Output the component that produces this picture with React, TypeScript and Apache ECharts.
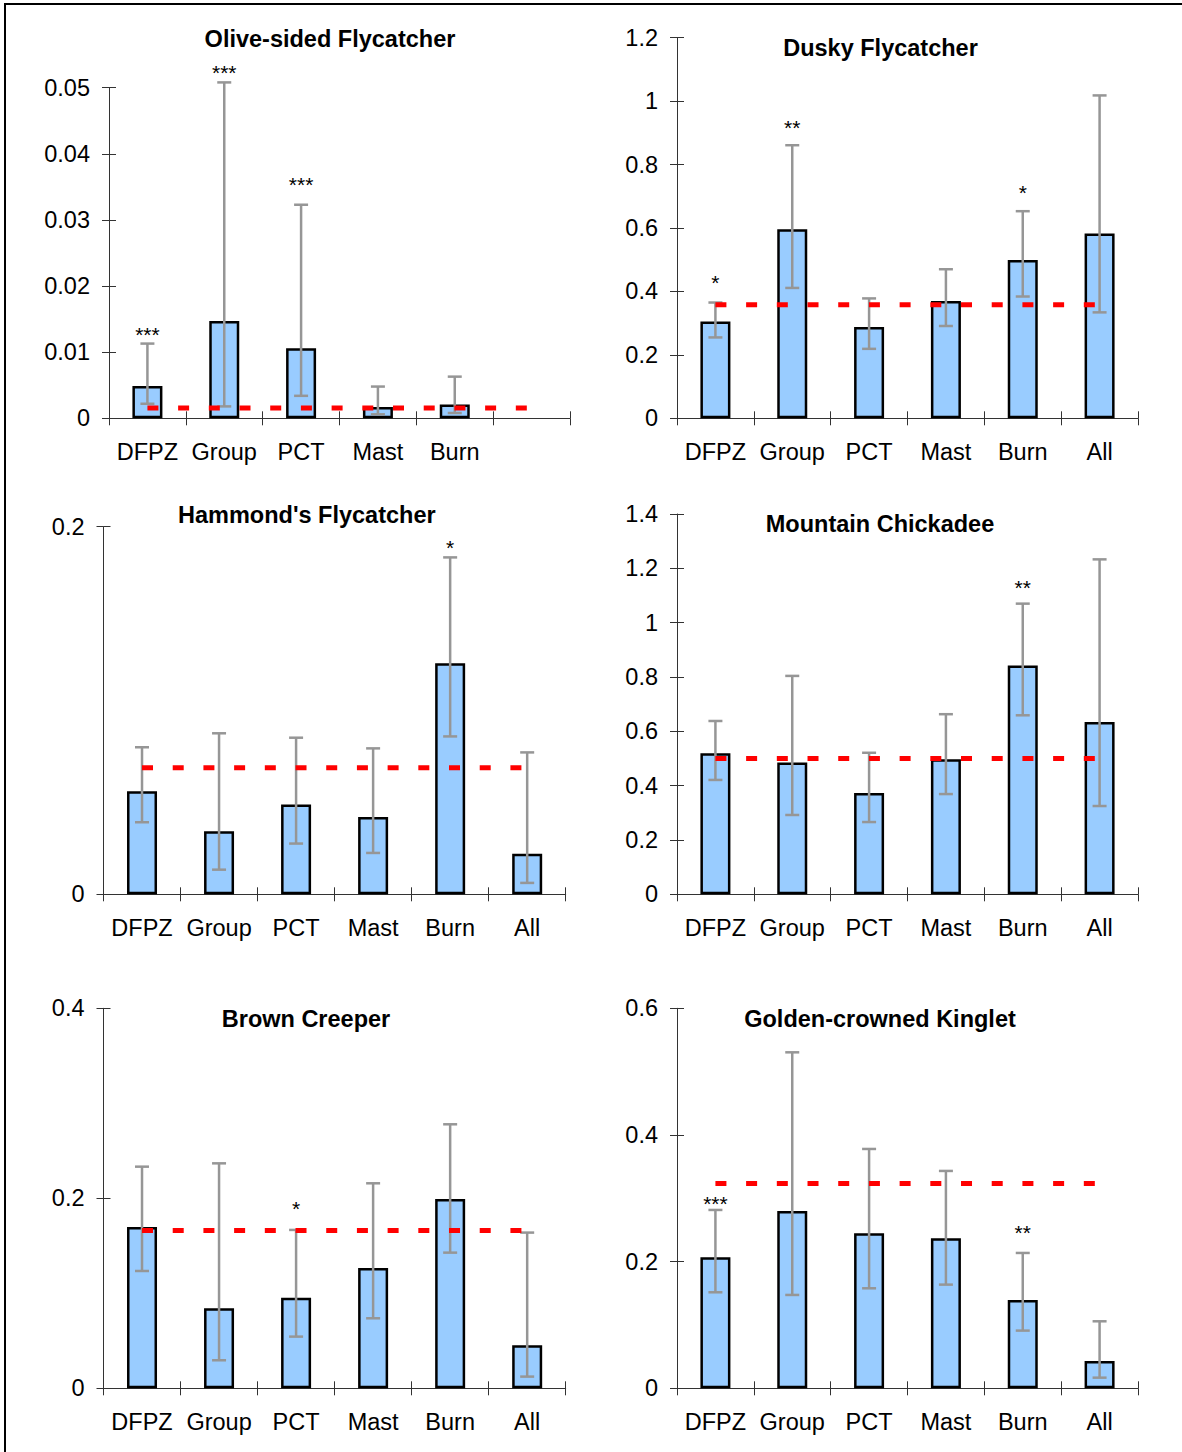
import React, { useEffect, useRef } from 'react';
import * as echarts from 'echarts';

// ---------- Data ----------
const categories = ['DFPZ', 'Group', 'PCT', 'Mast', 'Burn', 'All'];
const oliveCategories = ['DFPZ', 'Group', 'PCT', 'Mast', 'Burn', ''];

// Olive-sided Flycatcher
const oliveMean = [0.0049, 0.0147, 0.0106, 0.0017, 0.0021];
const oliveLow = [0.0022, 0.0018, 0.0034, 0.0006, 0.0008];
const oliveHigh = [0.0113, 0.0508, 0.0323, 0.0048, 0.0063];
const oliveRef = 0.00156;
const oliveStars = ['***', '***', '***', '', ''];
const oliveStarY = [0.0134, 0.053, 0.036, null, null];

// Dusky Flycatcher
const duskyMean = [0.305, 0.596, 0.288, 0.37, 0.499, 0.583];
const duskyLow = [0.255, 0.411, 0.219, 0.291, 0.384, 0.334];
const duskyHigh = [0.365, 0.861, 0.378, 0.47, 0.653, 1.018];
const duskyRef = 0.358;
const duskyStars = ['*', '**', '', '', '*', ''];
const duskyStarY = [0.441, 0.932, null, null, 0.727, null];

// Hammond's Flycatcher
const hammondMean = [0.056, 0.0343, 0.0488, 0.0421, 0.1257, 0.0221];
const hammondLow = [0.0392, 0.0134, 0.0276, 0.0225, 0.0859, 0.0062];
const hammondHigh = [0.08, 0.0876, 0.0852, 0.0794, 0.1833, 0.0772];
const hammondRef = 0.0689;
const hammondStars = ['', '', '', '', '*', ''];
const hammondStarY = [null, null, null, null, 0.1913, null];

// Mountain Chickadee
const chickadeeMean = [0.519, 0.485, 0.373, 0.497, 0.842, 0.634];
const chickadeeLow = [0.421, 0.292, 0.266, 0.369, 0.659, 0.325];
const chickadeeHigh = [0.638, 0.804, 0.521, 0.663, 1.07, 1.233];
const chickadeeRef = 0.5;
const chickadeeStars = ['', '', '', '', '**', ''];
const chickadeeStarY = [null, null, null, null, 1.147, null];

// Brown Creeper
const creeperMean = [0.1698, 0.0842, 0.0954, 0.1267, 0.1993, 0.0453];
const creeperLow = [0.1235, 0.0295, 0.0544, 0.0737, 0.1428, 0.0123];
const creeperHigh = [0.2333, 0.2368, 0.1667, 0.2158, 0.2779, 0.1639];
const creeperRef = 0.166;
const creeperStars = ['', '', '*', '', '', ''];
const creeperStarY = [null, null, 0.1937, null, null, null];

// Golden-crowned Kinglet
const kingletMean = [0.2068, 0.28, 0.2447, 0.2368, 0.1395, 0.0432];
const kingletLow = [0.1516, 0.1474, 0.1579, 0.1637, 0.0911, 0.0168];
const kingletHigh = [0.2816, 0.5305, 0.3779, 0.3432, 0.2137, 0.1058];
const kingletRef = 0.3232;
const kingletStars = ['***', '', '', '', '**', ''];
const kingletStarY = [0.2984, null, null, null, 0.2536, null];

// Axis scales
const oliveAxis = { min: 0, max: 0.05, interval: 0.01 };
const duskyAxis = { min: 0, max: 1.2, interval: 0.2 };
const hammondAxis = { min: 0, max: 0.2, interval: 0.2 };
const chickadeeAxis = { min: 0, max: 1.4, interval: 0.2 };
const creeperAxis = { min: 0, max: 0.4, interval: 0.2 };
const kingletAxis = { min: 0, max: 0.6, interval: 0.2 };

// ---------- Layout / style ----------
const FONT = 'Liberation Sans, Arial, sans-serif';
const AXIS_COLOR = '#333333';
const ERR_COLOR = '#969696';

const panels = [
  {
    title: 'Olive-sided Flycatcher', tx: 330, ty: 39,
    cats: oliveCategories, mean: oliveMean, low: oliveLow, high: oliveHigh, ref: oliveRef,
    stars: oliveStars, starY: oliveStarY, axis: oliveAxis,
    rect: { left: 109, top: 87.7, width: 461, height: 330.6 },
  },
  {
    title: 'Dusky Flycatcher', tx: 880.5, ty: 48,
    cats: categories, mean: duskyMean, low: duskyLow, high: duskyHigh, ref: duskyRef,
    stars: duskyStars, starY: duskyStarY, axis: duskyAxis,
    rect: { left: 677, top: 37.7, width: 461, height: 380.6 },
  },
  {
    title: "Hammond's Flycatcher", tx: 306.8, ty: 515,
    cats: categories, mean: hammondMean, low: hammondLow, high: hammondHigh, ref: hammondRef,
    stars: hammondStars, starY: hammondStarY, axis: hammondAxis,
    rect: { left: 103.5, top: 526.7, width: 462.2, height: 367.6 },
  },
  {
    title: 'Mountain Chickadee', tx: 880, ty: 524,
    cats: categories, mean: chickadeeMean, low: chickadeeLow, high: chickadeeHigh, ref: chickadeeRef,
    stars: chickadeeStars, starY: chickadeeStarY, axis: chickadeeAxis,
    rect: { left: 677, top: 514, width: 461, height: 380.3 },
  },
  {
    title: 'Brown Creeper', tx: 306, ty: 1019,
    cats: categories, mean: creeperMean, low: creeperLow, high: creeperHigh, ref: creeperRef,
    stars: creeperStars, starY: creeperStarY, axis: creeperAxis,
    rect: { left: 103.5, top: 1008.3, width: 462.2, height: 380 },
  },
  {
    title: 'Golden-crowned Kinglet', tx: 880, ty: 1019,
    cats: categories, mean: kingletMean, low: kingletLow, high: kingletHigh, ref: kingletRef,
    stars: kingletStars, starY: kingletStarY, axis: kingletAxis,
    rect: { left: 677, top: 1008.3, width: 461, height: 380 },
  },
];

function fmt(v: number) {
  return String(parseFloat(Number(v).toFixed(6)));
}

function buildOption() {
  const grid: any[] = [];
  const xAxis: any[] = [];
  const yAxis: any[] = [];
  const series: any[] = [];
  const graphic: any[] = [];

  panels.forEach((p, k) => {
    const g1 = 2 * k;
    const g2 = 2 * k + 1;
    grid.push({ ...p.rect, containLabel: false });
    grid.push({ ...p.rect, containLabel: false });

    // primary axes (outward ticks + labels)
    xAxis.push({
      gridIndex: g1, type: 'category', data: p.cats, position: 'bottom',
      axisLine: { show: true, onZero: false, lineStyle: { color: AXIS_COLOR, width: 1 } },
      axisTick: { show: true, length: 7, inside: false, lineStyle: { color: AXIS_COLOR, width: 1 } },
      axisLabel: { show: true, interval: 0, margin: 22, color: '#000', fontSize: 23.5, fontFamily: FONT },
      splitLine: { show: false },
    });
    yAxis.push({
      gridIndex: g1, type: 'value', position: 'left', ...p.axis,
      axisLine: { show: true, lineStyle: { color: AXIS_COLOR, width: 1 } },
      axisTick: { show: true, length: 7, inside: false, lineStyle: { color: AXIS_COLOR, width: 1 } },
      axisLabel: { show: true, margin: 19, color: '#000', fontSize: 23.5, fontFamily: FONT, formatter: fmt },
      splitLine: { show: false },
    });
    // secondary axes (inward ticks only) to produce cross tick marks
    xAxis.push({
      gridIndex: g2, type: 'category', data: p.cats, position: 'bottom',
      axisLine: { show: false },
      axisTick: { show: true, length: 7, inside: true, lineStyle: { color: AXIS_COLOR, width: 1 } },
      axisLabel: { show: false },
      splitLine: { show: false },
    });
    yAxis.push({
      gridIndex: g2, type: 'value', position: 'left', ...p.axis,
      axisLine: { show: false },
      axisTick: { show: true, length: 7, inside: true, lineStyle: { color: AXIS_COLOR, width: 1 } },
      axisLabel: { show: false },
      splitLine: { show: false },
    });

    series.push({
      type: 'bar', xAxisIndex: g1, yAxisIndex: g1, z: 2,
      data: p.mean, barWidth: 30,
      itemStyle: { color: '#99CCFF', borderColor: '#000000', borderWidth: 2.5 },
      emphasis: { disabled: true },
    });

    const stars = p.stars;
    const starY = p.starY;
    series.push({
      type: 'custom', xAxisIndex: g1, yAxisIndex: g1, z: 3, clip: false,
      data: p.low.map((lo, i) => [i, lo, p.high[i]]),
      renderItem: (params: any, api: any) => {
        const i = api.value(0);
        const top = api.coord([i, api.value(2)]);
        const bot = api.coord([i, api.value(1)]);
        const x = top[0];
        const half = 7;
        const style = { stroke: ERR_COLOR, lineWidth: 2.5, fill: null };
        const children: any[] = [
          { type: 'line', shape: { x1: x, y1: top[1], x2: x, y2: bot[1] }, style },
          { type: 'line', shape: { x1: x - half, y1: top[1], x2: x + half, y2: top[1] }, style },
          { type: 'line', shape: { x1: x - half, y1: bot[1], x2: x + half, y2: bot[1] }, style },
        ];
        const s = stars[params.dataIndex];
        const sy = starY[params.dataIndex];
        if (s && sy != null) {
          const c = api.coord([i, sy]);
          children.push({
            type: 'text', x: c[0], y: c[1] + 4.5,
            style: {
              text: s, fill: '#000', font: `21px ${FONT}`,
              align: 'center', verticalAlign: 'middle',
              textAlign: 'center', textVerticalAlign: 'middle',
            },
          });
        }
        return { type: 'group', children };
      },
    });

    series.push({
      type: 'line', xAxisIndex: g1, yAxisIndex: g1, z: 4,
      data: p.cats.map(() => p.ref),
      symbol: 'none', silent: true,
      lineStyle: { color: '#FF0000', width: 5, type: [11, 19.7], cap: 'butt' },
    });

    graphic.push({
      type: 'text', x: p.tx, y: p.ty, silent: true,
      style: {
        text: p.title, fill: '#000', font: `bold 23.5px ${FONT}`,
        align: 'center', verticalAlign: 'middle',
        textAlign: 'center', textVerticalAlign: 'middle',
      },
    });
  });

  // frame lines (top and left)
  graphic.push({ type: 'line', shape: { x1: 4, y1: 4, x2: 1182, y2: 4 }, style: { stroke: '#000', lineWidth: 2 } });
  graphic.push({ type: 'line', shape: { x1: 5, y1: 3, x2: 5, y2: 1452 }, style: { stroke: '#000', lineWidth: 2 } });

  return {
    animation: false,
    backgroundColor: '#ffffff',
    grid, xAxis, yAxis, series, graphic,
  };
}

export default function App() {
  const ref = useRef<HTMLDivElement>(null);
  useEffect(() => {
    const chart = echarts.init(ref.current as HTMLDivElement, null, { renderer: 'svg' });
    chart.setOption(buildOption() as any);
    return () => chart.dispose();
  }, []);
  return (
    <div
      ref={ref}
      style={{ position: 'absolute', left: 0, top: 0, width: 1182, height: 1452, background: '#fff' }}
    />
  );
}
